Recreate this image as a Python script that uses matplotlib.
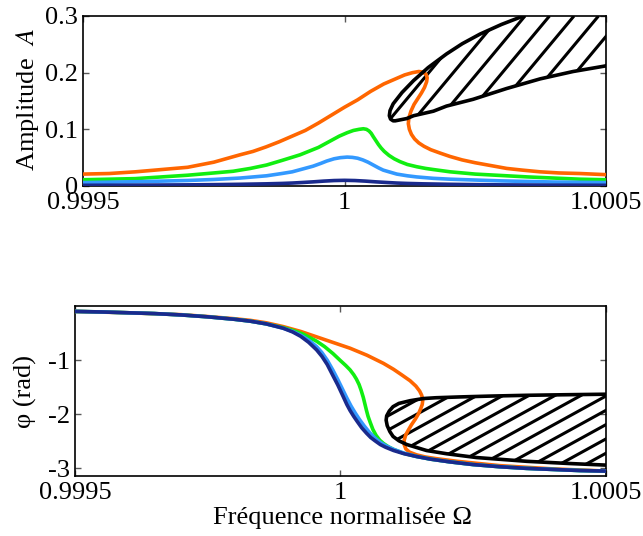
import numpy as np
import matplotlib
matplotlib.use("Agg")
import matplotlib.pyplot as plt
from matplotlib.patches import Polygon

plt.rcParams['font.family'] = ['Liberation Serif', 'DejaVu Serif']
plt.rcParams['mathtext.fontset'] = 'stix'

SCALE = 1e-4  # frequency offsets below are given in units of 1e-4 around Omega = 1

# ---------------- amplitude curves (offset, A) ----------------
orange_amp_d = [-5.0, -4.5, -4.0, -3.5, -3.0, -2.5, -2.0, -1.75, -1.5, -1.25, -1.0, -0.75, -0.5,
                -0.25, 0.0, 0.25, 0.5, 0.75, 1.0, 1.15, 1.3, 1.42, 1.50, 1.56, 1.58, 1.57, 1.53,
                1.47, 1.40, 1.33, 1.27, 1.23, 1.22, 1.24, 1.28, 1.34, 1.42, 1.52, 1.65, 1.83,
                2.02, 2.25, 2.5, 2.8, 3.1, 3.4, 3.74, 4.1, 4.5, 5.0]
orange_amp_A = [0.021, 0.022, 0.025, 0.029, 0.033, 0.042, 0.055, 0.061, 0.069, 0.078, 0.088,
                0.098, 0.111, 0.125, 0.139, 0.152, 0.167, 0.180, 0.190, 0.196, 0.200, 0.202,
                0.201, 0.197, 0.191, 0.184, 0.174, 0.164, 0.154, 0.144, 0.132, 0.120, 0.110,
                0.100, 0.091, 0.083, 0.076, 0.070, 0.064, 0.058, 0.052, 0.046, 0.041, 0.036,
                0.031, 0.028, 0.025, 0.023, 0.022, 0.020]

green_amp_d = [-5.0, -4.5, -4.0, -3.5, -3.0, -2.5, -2.13, -1.8, -1.49, -1.2, -0.85, -0.5, -0.3,
               -0.1, 0.05, 0.17, 0.28, 0.36, 0.42, 0.47, 0.51, 0.55, 0.60, 0.65, 0.70, 0.76,
               0.85, 0.95, 1.06, 1.2, 1.38, 1.55, 1.70, 2.02, 2.5, 3.1, 3.5, 4.0, 4.5, 5.0]
green_amp_A = [0.011, 0.012, 0.013, 0.016, 0.019, 0.023, 0.026, 0.031, 0.037, 0.045, 0.055,
               0.068, 0.078, 0.088, 0.094, 0.098, 0.100, 0.101, 0.100, 0.097, 0.093, 0.087,
               0.080, 0.073, 0.067, 0.061, 0.054, 0.048, 0.043, 0.038, 0.034, 0.031, 0.029,
               0.025, 0.021, 0.018, 0.016, 0.014, 0.012, 0.011]

blue_amp_d = [-5.0, -4.0, -3.0, -2.5, -2.0, -1.49, -1.2, -1.0, -0.8, -0.6, -0.45, -0.34, -0.2,
              -0.08, 0.05, 0.15, 0.25, 0.35, 0.45, 0.55, 0.65, 0.74, 0.85, 1.0, 1.2, 1.38, 1.7,
              2.02, 2.5, 3.0, 4.0, 5.0]
blue_amp_A = [0.006, 0.0075, 0.0097, 0.0115, 0.014, 0.018, 0.022, 0.025, 0.030, 0.035, 0.040,
              0.044, 0.048, 0.050, 0.051, 0.0505, 0.049, 0.046, 0.042, 0.037, 0.032, 0.028,
              0.025, 0.021, 0.018, 0.016, 0.0135, 0.012, 0.0105, 0.009, 0.007, 0.006]

navy_amp_d = [-5.0, -4.0, -3.0, -2.5, -2.0, -1.5, -1.2, -1.0, -0.8, -0.6, -0.4, -0.2, 0.0, 0.2,
              0.4, 0.6, 0.8, 1.0, 1.2, 1.5, 2.0, 2.5, 3.0, 4.0, 5.0]
navy_amp_A = [0.0012, 0.0015, 0.002, 0.0024, 0.003, 0.0038, 0.0045, 0.0052, 0.0062, 0.0073,
              0.0086, 0.0096, 0.0100, 0.0096, 0.0086, 0.0073, 0.0062, 0.0052, 0.0045, 0.0038,
              0.003, 0.0024, 0.002, 0.0015, 0.0012]

# ---------------- phase curves (offset, phi) ----------------
orange_ph_d = [-5.0, -4.0, -3.0, -2.5, -2.0, -1.7, -1.4, -1.08, -0.75, -0.45, -0.15, 0.18, 0.5,
               0.81, 1.0, 1.15, 1.31, 1.42, 1.49, 1.53, 1.55, 1.54, 1.51, 1.47, 1.41, 1.34,
               1.28, 1.23, 1.20, 1.20, 1.23, 1.30, 1.43, 1.60, 1.80, 2.2, 2.6, 3.0, 3.5, 4.0,
               4.5, 5.0]
orange_ph_p = [-0.10, -0.125, -0.16, -0.195, -0.235, -0.265, -0.31, -0.38, -0.47, -0.57, -0.67,
               -0.78, -0.91, -1.06, -1.17, -1.27, -1.38, -1.48, -1.57, -1.65, -1.74, -1.82,
               -1.90, -1.99, -2.09, -2.19, -2.29, -2.38, -2.48, -2.56, -2.64, -2.70, -2.75,
               -2.79, -2.82, -2.87, -2.91, -2.95, -2.98, -3.01, -3.03, -3.05]

green_ph_d = [-5.0, -4.5, -4.0, -3.5, -3.0, -2.5, -2.0, -1.7, -1.4, -1.08, -0.9, -0.7, -0.45,
              -0.3, -0.14, 0.0, 0.1, 0.18, 0.25, 0.30, 0.35, 0.39, 0.43, 0.46, 0.49, 0.52, 0.56,
              0.61, 0.67, 0.74, 0.81, 0.9, 1.0, 1.18, 1.43, 1.7, 2.06, 2.5, 3.0, 3.5, 4.0,
              4.5, 5.0]
green_ph_p = [-0.10, -0.11, -0.125, -0.14, -0.165, -0.20, -0.245, -0.28, -0.33, -0.40, -0.45,
              -0.52, -0.65, -0.75, -0.88, -1.01, -1.10, -1.18, -1.27, -1.35, -1.45, -1.56,
              -1.69, -1.81, -1.93, -2.04, -2.15, -2.28, -2.39, -2.48, -2.54, -2.60, -2.65,
              -2.72, -2.78, -2.83, -2.88, -2.93, -2.97, -3.0, -3.02, -3.04, -3.05]

blue_ph_d = [-5.0, -4.5, -4.0, -3.5, -3.0, -2.5, -2.0, -1.7, -1.4, -1.08, -0.9, -0.75, -0.6,
             -0.45, -0.35, -0.25, -0.14, -0.05, 0.05, 0.12, 0.2, 0.28, 0.36, 0.45, 0.55, 0.65,
             0.75, 0.85, 1.0, 1.2, 1.43, 1.7, 2.06, 2.5, 3.0, 3.5, 4.0, 4.5, 5.0]
blue_ph_p = [-0.10, -0.11, -0.125, -0.14, -0.165, -0.20, -0.245, -0.28, -0.33, -0.41, -0.47,
             -0.54, -0.63, -0.75, -0.86, -1.00, -1.19, -1.36, -1.56, -1.70, -1.85, -1.98,
             -2.10, -2.22, -2.34, -2.44, -2.52, -2.58, -2.65, -2.72, -2.78, -2.83, -2.88,
             -2.93, -2.97, -3.0, -3.02, -3.04, -3.05]

navy_ph_d = [-5.0, -4.5, -4.0, -3.5, -3.0, -2.5, -2.0, -1.7, -1.4, -1.08, -0.9, -0.75, -0.6,
             -0.45, -0.35, -0.25, -0.14, -0.05, 0.05, 0.12, 0.18, 0.25, 0.32, 0.4, 0.49, 0.57,
             0.65, 0.75, 0.85, 1.0, 1.2, 1.43, 1.7, 2.06, 2.5, 3.0, 3.5, 4.0, 4.5, 5.0]
navy_ph_p = [-0.10, -0.11, -0.125, -0.14, -0.165, -0.20, -0.245, -0.28, -0.33, -0.41, -0.48,
             -0.56, -0.67, -0.81, -0.93, -1.08, -1.29, -1.46, -1.67, -1.82, -1.93, -2.04,
             -2.14, -2.25, -2.35, -2.43, -2.49, -2.56, -2.61, -2.67, -2.73, -2.78, -2.83,
             -2.88, -2.93, -2.97, -3.0, -3.02, -3.04, -3.05]

# ---------------- unstable region boundaries ----------------
region_amp_d = [3.42, 3.0, 2.59, 2.25, 1.95, 1.6, 1.32, 1.1, 0.93, 0.87, 0.857, 0.88, 0.93,
                0.97, 1.19, 1.32, 1.70, 1.95, 2.46, 3.10, 3.74, 4.37, 5.0]
region_amp_A = [0.300, 0.285, 0.268, 0.251, 0.233, 0.209, 0.186, 0.165, 0.145, 0.133, 0.124,
                0.118, 0.115, 0.115, 0.119, 0.124, 0.132, 0.141, 0.153, 0.172, 0.189, 0.202,
                0.212]

region_ph_d = [5.0, 4.2, 3.51, 2.8, 2.25, 1.8, 1.56, 1.31, 1.1, 0.99, 0.92, 0.87, 0.86, 0.88,
               0.93, 0.99, 1.1, 1.25, 1.62, 2.0, 2.56, 3.51, 4.3, 5.0]
region_ph_p = [-1.63, -1.64, -1.65, -1.665, -1.68, -1.695, -1.71, -1.75, -1.80, -1.86, -1.94,
               -2.03, -2.11, -2.21, -2.32, -2.41, -2.49, -2.56, -2.67, -2.73, -2.80, -2.87,
               -2.91, -2.94]

c_orange = '#FF6600'
c_green = '#11EE11'
c_blue = '#3399FF'
c_navy = '#1A2A8C'

xticks = [0.9995, 1.0, 1.0005]
xticklabels = ['0.9995', '1', '1.0005']

FS = 19
LW = 2.6


def om(d):
    return 1.0 + np.asarray(d) * SCALE


def hatch(ax, poly, x0, y0, slope, dx):
    """Draw diagonal hatch lines (axes coords) clipped to poly."""
    for k in range(-60, 60):
        xa = x0 + k * dx
        xs = [xa - y0 / slope, xa + (1 - y0) / slope]
        ln, = ax.plot(xs, [0, 1], color='k', lw=2.2, transform=ax.transAxes, zorder=2,
                      solid_capstyle='butt')
        ln.set_clip_path(poly)


fig = plt.figure(figsize=(6.43, 5.36), dpi=100)
ax1 = fig.add_axes([0.1291, 0.6530, 0.8134, 0.3172])
ax2 = fig.add_axes([0.1166, 0.1119, 0.8258, 0.3172])

# ---- top: amplitude ----
ax1.plot(om(orange_amp_d), orange_amp_A, color=c_orange, lw=LW, zorder=3)
ax1.plot(om(green_amp_d), green_amp_A, color=c_green, lw=LW, zorder=3)
ax1.plot(om(blue_amp_d), blue_amp_A, color=c_blue, lw=LW, zorder=3)
ax1.plot(om(navy_amp_d), navy_amp_A, color=c_navy, lw=LW, zorder=3)

ax1.set_xlim(0.9995, 1.0005)
ax1.set_ylim(0, 0.3)
poly1_pts = list(zip(om(region_amp_d), region_amp_A)) + [(om(5.0), 0.3)]
poly1 = Polygon(poly1_pts, closed=True, transform=ax1.transData, fill=False,
                edgecolor='none')
ax1.add_patch(poly1)
hatch(ax1, poly1, x0=0.8451, y0=1.0, slope=1.2 * 523 / 170, dx=24.5 / 523)
ax1.plot(om(region_amp_d), region_amp_A, color='k', lw=2.6, zorder=4)

ax1.set_xticks(xticks)
ax1.set_xticklabels(xticklabels)
ax1.set_yticks([0, 0.1, 0.2, 0.3])
ax1.set_yticklabels(['0', '0.1', '0.2', '0.3'])
ax1.set_ylabel(r'Amplitude  $A$', fontsize=FS)
ax1.yaxis.set_label_coords(-0.107, 0.506)
ax1.yaxis.label.set_va('center')

# ---- bottom: phase ----
ax2.plot(om(orange_ph_d), orange_ph_p, color=c_orange, lw=LW, zorder=3)
ax2.plot(om(green_ph_d), green_ph_p, color=c_green, lw=LW, zorder=3)
ax2.plot(om(blue_ph_d), blue_ph_p, color=c_blue, lw=LW, zorder=3)
ax2.plot(om(navy_ph_d), navy_ph_p, color=c_navy, lw=LW, zorder=3)

ax2.set_xlim(0.9995, 1.0005)
ax2.set_ylim(-np.pi, 0)
poly2 = Polygon(list(zip(om(region_ph_d), region_ph_p)), closed=True,
                transform=ax2.transData, fill=False, edgecolor='none')
ax2.add_patch(poly2)
hatch(ax2, poly2, x0=0.7062, y0=0.4706, slope=0.55 * 531 / 170, dx=26 / 531)
ax2.plot(om(region_ph_d), region_ph_p, color='k', lw=2.6, zorder=4)

ax2.set_xticks(xticks)
ax2.set_xticklabels(xticklabels)
ax2.set_yticks([-1, -2, -3])
ax2.set_yticklabels(['-1', '-2', '-3'])
ax2.set_ylabel('φ (rad)', fontsize=FS)
ax2.yaxis.set_label_coords(-0.094, 0.497)
ax2.yaxis.label.set_va('center')
ax2.set_xlabel('Fréquence normalisée Ω', fontsize=FS)
ax2.xaxis.set_label_coords(0.503, -0.18)

for ax in (ax1, ax2):
    for s in ax.spines.values():
        s.set_linewidth(1.2)
        s.set_color('k')
    ax.tick_params(direction='in', length=4, width=1, color='0.35', top=True, right=True,
                   labelsize=FS)
    ax.tick_params(axis='x', pad=4)
    ax.tick_params(axis='y', pad=3.5)

fig.savefig('out.png', dpi=100)
